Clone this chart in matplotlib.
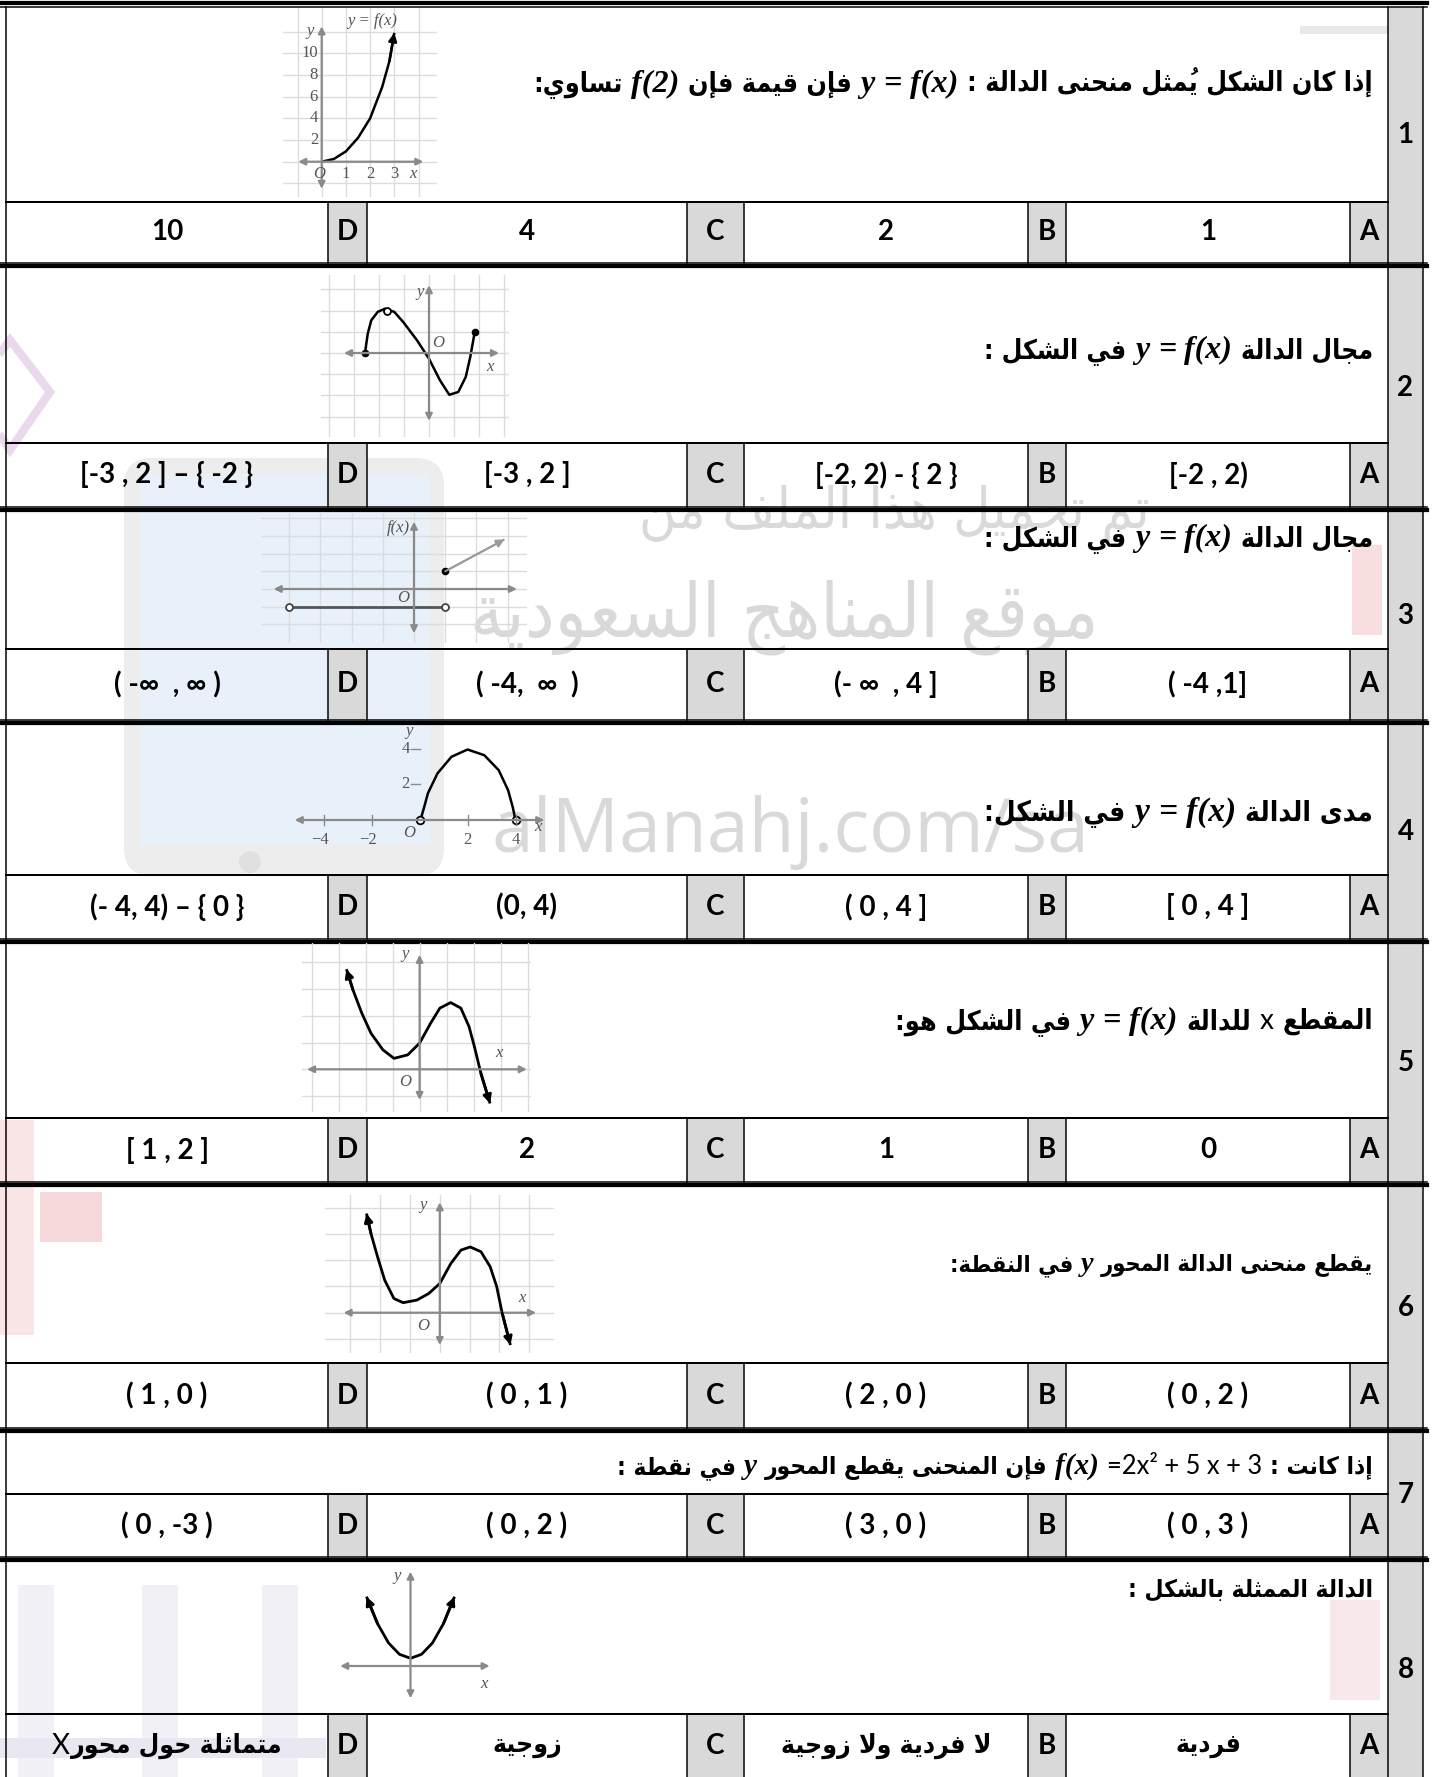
import matplotlib
matplotlib.use("Agg")
import matplotlib.pyplot as plt
from matplotlib.patches import Rectangle, FancyBboxPatch, Circle, Polygon

W, H = 1434, 1777

# ---------------- data ----------------
numbers = ["1", "2", "3", "4", "5", "6", "7", "8"]
letters = ["A", "B", "C", "D"]

# question lines, segments in reading order (right to left)
q1 = [("إذا كان الشكل يُمثل منحنى الدالة :", "ar"), ("f(x)", "m"), ("=", "m"), ("y", "m"),
      ("فإن قيمة فإن", "ar"), ("f(2)", "m"), ("تساوي:", "ar")]
q2 = [("مجال الدالة", "ar"), ("f(x)", "m"), ("=", "m"), ("y", "m"), ("في الشكل :", "ar")]
q3 = [("مجال الدالة", "ar"), ("f(x)", "m"), ("=", "m"), ("y", "m"), ("في الشكل :", "ar")]
q4 = [("مدى الدالة", "ar"), ("f(x)", "m"), ("=", "m"), ("y", "m"), ("في الشكل:", "ar")]
q5 = [("المقطع", "ar"), ("x", "lat"), ("للدالة", "ar"), ("f(x)", "m"), ("=", "m"), ("y", "m"),
      ("في الشكل هو:", "ar")]
q6 = [("يقطع منحنى الدالة المحور", "ar"), ("y", "m"), ("في النقطة:", "ar")]
q7 = [("إذا كانت :", "ar"), ("=2x² + 5 x + 3", "lat"), ("f(x)", "m"),
      ("فإن المنحنى يقطع المحور", "ar"), ("y", "m"), ("في نقطة :", "ar")]
q8 = [("الدالة الممثلة بالشكل :", "ar")]
questions = [q1, q2, q3, q4, q5, q6, q7, q8]

# answers A, B, C, D
answers = [
    ["1", "2", "4", "10"],
    ["[-2 , 2)", "[-2, 2) - { 2 }", "[-3 , 2 ]", "[-3 , 2 ] – { -2 }"],
    ["( -4 ,1]", "(- ∞  , 4 ]", "( -4,  ∞  )", "( -∞  , ∞ )"],
    ["[ 0 , 4 ]", "( 0 , 4 ]", "(0, 4)", "(- 4, 4) – { 0 }"],
    ["0", "1", "2", "[ 1 , 2 ]"],
    ["( 0 , 2 )", "( 2 , 0 )", "( 0 , 1 )", "( 1 , 0 )"],
    ["( 0 , 3 )", "( 3 , 0 )", "( 0 , 2 )", "( 0 , -3 )"],
    [[("فردية", "ar")], [("لا فردية ولا زوجية", "ar")], [("زوجية", "ar")],
     [("متماثلة حول محور", "ar"), ("X", "lat")]],
]

# graph curves (graph units)
g1_x = [0, 0.5, 1.0, 1.5, 2.0, 2.5, 2.8, 3.0]
g1_y = [0, 0.25, 0.95, 2.2, 4.0, 6.9, 9.3, 11.9]
g1_yt = [2, 4, 6, 8, 10]
g1_xt = [1, 2, 3]

g2_x = [-2.56, -2.5, -2.45, -2.31, -2.05, -1.76, -1.39, -1.03, -0.48, 0.0, 0.44, 0.81, 1.17, 1.47, 1.65, 1.83]
g2_y = [0.0, 0.5, 0.91, 1.54, 1.94, 2.09, 1.94, 1.46, 0.6, -0.27, -1.29, -1.97, -1.84, -1.13, -0.19, 0.99]
g2_open = (-1.68, 1.98)

g3_seg_x = [-4, 1]
g3_seg_y = [-1, -1]
g3_ray_x = [1, 2.9]
g3_ray_y = [1, 2.8]

g4_x = [0.04, 0.2, 0.35, 0.75, 1.33, 2.0, 2.7, 3.3, 3.69, 3.88, 4.0]
g4_y = [0.0, 0.75, 1.5, 2.62, 3.55, 3.96, 3.64, 2.8, 1.68, 0.75, 0.0]
g4_xt = [-4, -2, 2, 4]
g4_yt = [2, 4]

g5_x = [-2.71, -2.47, -2.14, -1.8, -1.36, -0.95, -0.44, 0.0, 0.41, 0.75, 1.15, 1.53, 1.83, 2.03, 2.27, 2.61]
g5_y = [3.75, 2.98, 2.1, 1.35, 0.73, 0.41, 0.54, 0.98, 1.73, 2.29, 2.5, 2.29, 1.6, 0.85, -0.15, -1.28]

g6_x = [-2.46, -2.31, -2.09, -1.85, -1.54, -1.23, -0.77, -0.37, 0.0, 0.37, 0.71, 1.02, 1.38, 1.69, 1.91, 2.09, 2.37]
g6_y = [3.77, 3.01, 2.13, 1.24, 0.54, 0.38, 0.48, 0.73, 1.11, 1.87, 2.38, 2.5, 2.32, 1.75, 0.99, 0.0, -1.23]

g8_x = [-2.0, -1.5, -1.0, -0.5, 0.0, 0.5, 1.0, 1.5, 2.0]
g8_y = [3.15, 1.93, 1.05, 0.53, 0.35, 0.53, 1.05, 1.93, 3.15]

# ---------------- arabic shaping ----------------
FORMS = {
    'ء': ('\uFE80', None, None, None), 'آ': ('\uFE81', '\uFE82', None, None),
    'أ': ('\uFE83', '\uFE84', None, None), 'إ': ('\uFE87', '\uFE88', None, None),
    'ا': ('\uFE8D', '\uFE8E', None, None), 'ب': ('\uFE8F', '\uFE90', '\uFE91', '\uFE92'),
    'ة': ('\uFE93', '\uFE94', None, None), 'ت': ('\uFE95', '\uFE96', '\uFE97', '\uFE98'),
    'ث': ('\uFE99', '\uFE9A', '\uFE9B', '\uFE9C'), 'ج': ('\uFE9D', '\uFE9E', '\uFE9F', '\uFEA0'),
    'ح': ('\uFEA1', '\uFEA2', '\uFEA3', '\uFEA4'), 'خ': ('\uFEA5', '\uFEA6', '\uFEA7', '\uFEA8'),
    'د': ('\uFEA9', '\uFEAA', None, None), 'ذ': ('\uFEAB', '\uFEAC', None, None),
    'ر': ('\uFEAD', '\uFEAE', None, None), 'ز': ('\uFEAF', '\uFEB0', None, None),
    'س': ('\uFEB1', '\uFEB2', '\uFEB3', '\uFEB4'), 'ش': ('\uFEB5', '\uFEB6', '\uFEB7', '\uFEB8'),
    'ص': ('\uFEB9', '\uFEBA', '\uFEBB', '\uFEBC'), 'ض': ('\uFEBD', '\uFEBE', '\uFEBF', '\uFEC0'),
    'ط': ('\uFEC1', '\uFEC2', '\uFEC3', '\uFEC4'), 'ظ': ('\uFEC5', '\uFEC6', '\uFEC7', '\uFEC8'),
    'ع': ('\uFEC9', '\uFECA', '\uFECB', '\uFECC'), 'غ': ('\uFECD', '\uFECE', '\uFECF', '\uFED0'),
    'ف': ('\uFED1', '\uFED2', '\uFED3', '\uFED4'), 'ق': ('\uFED5', '\uFED6', '\uFED7', '\uFED8'),
    'ك': ('\uFED9', '\uFEDA', '\uFEDB', '\uFEDC'), 'ل': ('\uFEDD', '\uFEDE', '\uFEDF', '\uFEE0'),
    'م': ('\uFEE1', '\uFEE2', '\uFEE3', '\uFEE4'), 'ن': ('\uFEE5', '\uFEE6', '\uFEE7', '\uFEE8'),
    'ه': ('\uFEE9', '\uFEEA', '\uFEEB', '\uFEEC'), 'و': ('\uFEED', '\uFEEE', None, None),
    'ى': ('\uFEEF', '\uFEF0', None, None), 'ي': ('\uFEF1', '\uFEF2', '\uFEF3', '\uFEF4'),
}
LAM_ALEF = {'ا': ('\uFEFB', '\uFEFC'), 'أ': ('\uFEF7', '\uFEF8'),
            'إ': ('\uFEF9', '\uFEFA'), 'آ': ('\uFEF5', '\uFEF6')}
MARKS = set('\u064B\u064C\u064D\u064E\u064F\u0650\u0651\u0652')


def shape(text):
    cl = []
    for ch in text:
        if ch in MARKS and cl:
            cl[-1][1] += ch
        else:
            cl.append([ch, ''])
    mg = []
    i = 0
    while i < len(cl):
        if cl[i][0] == 'ل' and i + 1 < len(cl) and cl[i + 1][0] in LAM_ALEF:
            mg.append(['LA' + cl[i + 1][0], cl[i][1] + cl[i + 1][1]])
            i += 2
        else:
            mg.append(cl[i])
            i += 1

    def letter(b):
        return b.startswith('LA') or b in FORMS

    def joins_next(b):
        return b in FORMS and FORMS[b][2] is not None

    out = []
    for i, (b, m) in enumerate(mg):
        cp = i > 0 and joins_next(mg[i - 1][0]) and letter(b)
        cn = i + 1 < len(mg) and letter(mg[i + 1][0]) and joins_next(b)
        if b.startswith('LA'):
            g = LAM_ALEF[b[2]][1 if cp else 0]
        elif b in FORMS:
            iso, fin, ini, med = FORMS[b]
            g = med if (cp and cn) else fin if cp else ini if cn else iso
        else:
            g = b
        # marks go first so they land on their own letter in left-to-right drawing
        out.append(m + g)
    return ''.join(reversed(out))


# ---------------- figure ----------------
fig = plt.figure(figsize=(W / 100, H / 100), dpi=100)
ax = fig.add_axes([0, 0, 1, 1])
ax.set_xlim(0, W)
ax.set_ylim(H, 0)
ax.axis("off")
R = fig.canvas.get_renderer()

GRAY = "#d9d9d9"
STYLE = {
    "ar": dict(family="DejaVu Sans", weight="bold", stretch="condensed"),
    "m": dict(family="Liberation Serif", style="italic", weight="bold"),
    "lat": dict(family=["Lato", "DejaVu Sans"], weight="normal"),
    "ans": dict(family=["Lato", "DejaVu Sans"], weight="bold"),
}
SCALE = {"ar": 1.0, "m": 1.2, "lat": 1.05, "ans": 1.0}
FS = 20


def place(segs, x, y, size, align="right", left=None, z=5, color="black", va="baseline",
          alpha=1.0, weight=None, gapf=0.45):
    ts = []
    for txt, kind in segs:
        s = shape(txt) if kind == "ar" else txt
        st = dict(STYLE[kind])
        if weight is not None:
            st["weight"] = weight
        t = ax.text(0, y, s, fontsize=size * SCALE[kind], ha="left", va=va,
                    color=color, alpha=alpha, zorder=z, **st)
        ts.append(t)
    gap = size * gapf

    def widths():
        return [t.get_window_extent(renderer=R).width for t in ts]

    wd = widths()
    total = sum(wd) + gap * (len(ts) - 1)
    if left is not None:
        k = (x - left) / total
        for t in ts:
            t.set_fontsize(t.get_fontsize() * k)
        gap *= k
        wd = widths()
        total = sum(wd) + gap * (len(ts) - 1)
    xr = x if align == "right" else x + total / 2
    for t, w in zip(ts, wd):
        t.set_x(xr - w)
        xr -= w + gap
    return ts


# ---------------- watermark ----------------
ax.add_patch(FancyBboxPatch((124, 458), 320, 418, boxstyle="round,pad=0,rounding_size=28",
                            fc="#ededed", ec="none", zorder=0))
ax.add_patch(Rectangle((140, 474), 290, 370, fc="#e8f0f9", ec="none", zorder=0))
ax.add_patch(Circle((250, 862), 11, fc="#e0e0e0", ec="none", zorder=0))
ax.add_patch(Polygon([(-30, 392), (10, 340), (50, 392), (10, 450)], closed=True, fill=False,
                     ec="#ead9ec", lw=6, zorder=0))
ax.add_patch(Rectangle((1352, 545), 30, 90, fc="#f8dede", ec="none", zorder=0))
ax.add_patch(Rectangle((0, 1120), 34, 215, fc="#fae5e6", ec="none", zorder=0))
ax.add_patch(Rectangle((40, 1192), 62, 50, fc="#f7d9db", ec="none", zorder=0))
for bx in [18, 142, 262]:
    ax.add_patch(Rectangle((bx, 1585), 36, 192, fc="#f1f0f6", ec="none", zorder=0))
ax.add_patch(Rectangle((0, 1738), 326, 20, fc="#e9e7f1", ec="none", zorder=0))
ax.add_patch(Rectangle((1330, 1600), 50, 100, fc="#f9e8ea", ec="none", zorder=0))
ax.add_patch(Rectangle((1300, 26), 88, 8, fc="#e9e9e9", ec="none", zorder=0))

WM = dict(color="#b4b4b4", alpha=0.5, weight="normal", z=1)
place([("تم تحميل هذا الملف من", "ar")], 1150, 528, 30, left=640, **WM)
place([("موقع المناهج السعودية", "ar")], 1098, 636, 40, left=470, **WM)
ax.text(790, 852, "alManahj.com/sa", ha="center", va="baseline", fontsize=54,
        family="Open Sans", color="#b4b4b4", alpha=0.5, zorder=1)

# ---------------- table ----------------
rows = [(7, 202, 263), (268, 443, 507), (512, 649, 720), (725, 875, 939),
        (944, 1118, 1182), (1187, 1363, 1428), (1433, 1494, 1557), (1562, 1714, 1777)]
X0, XN, XR = 6, 1388, 1423
ans_cells = [(1066, 1350), (744, 1028), (367, 687), (6, 328)]
lab_cells = [(1350, 1388), (1028, 1066), (687, 744), (328, 367)]
text_base = [92, 358, 546, 821, 1029, 1271, 1474, 1597]
text_left = [535, 984, 984, 984, 896, 950, 617, 1128]

LW_THIN = 1.5 * 0.72
ax.add_patch(Rectangle((XN, 7), XR - XN, H - 7, fc=GRAY, ec="none", zorder=2))
for i, (top, mid, bot) in enumerate(rows):
    for (a, b) in lab_cells:
        ax.add_patch(Rectangle((a, mid), b - a, bot - mid, fc=GRAY, ec="none", zorder=2))
    ax.plot([X0, XN], [mid, mid], color="black", lw=2 * 0.72, zorder=6)
    for xv in [328, 367, 687, 744, 1028, 1066, 1350]:
        ax.plot([xv, xv], [mid, bot], color="black", lw=LW_THIN, zorder=6)
    if i < len(rows) - 1:
        ax.plot([0, 1427], [bot, bot], color="black", lw=LW_THIN, zorder=6)
        ax.plot([0, 1427], [bot + 2.8, bot + 2.8], color="black", lw=4.2 * 0.72, zorder=6)
    ax.text((XN + XR) / 2, (top + bot) / 2, numbers[i], ha="center", va="center",
            fontsize=FS, zorder=7, **STYLE["ans"])
    yc = (mid + bot) / 2
    for j in range(4):
        a, b = ans_cells[j]
        la, lb = lab_cells[j]
        ax.text((la + lb) / 2, yc, letters[j], ha="center", va="center", fontsize=FS,
                zorder=7, **STYLE["ans"])
        val = answers[i][j]
        if isinstance(val, list):
            place(val, (a + b) / 2, yc, 19, align="center", va="center", gapf=0.05)
        else:
            ax.text((a + b) / 2, yc, val, ha="center", va="center", fontsize=FS,
                    zorder=7, **STYLE["ans"])
    place(questions[i], 1373, text_base[i], 17, left=text_left[i])

ax.plot([0, 1427], [3, 3], color="black", lw=4.2 * 0.72, zorder=6)
ax.plot([0, 1427], [7, 7], color="black", lw=LW_THIN, zorder=6)
for xv in [X0, XN, XR]:
    ax.plot([xv, xv], [7, H], color="black", lw=LW_THIN, zorder=6)

# ---------------- small graphs ----------------
AXC = "#8a8a8a"
GRC = "#dcdcdc"
LBL = dict(family="Liberation Serif", color="#555555", fontsize=12)


def graph(box, origin, ux, uy, gx=None, gy=None):
    x0, y0, x1, y1 = box
    ox, oy = origin
    g = fig.add_axes([x0 / W, 1 - y1 / H, (x1 - x0) / W, (y1 - y0) / H])
    g.set_xlim((x0 - ox) / ux, (x1 - ox) / ux)
    g.set_ylim((oy - y1) / uy, (oy - y0) / uy)
    g.patch.set_alpha(0)
    for s in g.spines.values():
        s.set_visible(False)
    g.tick_params(length=0, labelbottom=False, labelleft=False)
    if gx is not None:
        g.set_xticks(gx)
        g.set_yticks(gy)
        g.grid(True, color=GRC, lw=1.0)
    else:
        g.set_xticks([])
        g.set_yticks([])
    return g


def axes_arrows(g, xa, ya):
    ap = dict(arrowstyle="<|-|>", color=AXC, lw=1.6, mutation_scale=10, shrinkA=0, shrinkB=0)
    g.annotate("", xy=(xa[1], 0), xytext=(xa[0], 0), arrowprops=ap)
    g.annotate("", xy=(0, ya[1]), xytext=(0, ya[0]), arrowprops=ap)


def curve(g, xs, ys, c="black", arrows=(False, True), lw=1.8):
    g.plot(xs, ys, color=c, lw=lw, solid_capstyle="butt")
    ap = dict(arrowstyle="-|>", color=c, lw=lw, mutation_scale=12, shrinkA=0, shrinkB=0)
    if arrows[1]:
        g.annotate("", xy=(xs[-1], ys[-1]), xytext=(xs[-2], ys[-2]), arrowprops=ap)
    if arrows[0]:
        g.annotate("", xy=(xs[0], ys[0]), xytext=(xs[1], ys[1]), arrowprops=ap)


# graph 1
g = graph((283, 8, 437, 197), (321.7, 161.7), 24.2, 10.83, gx=[-1, 0, 1, 2, 3, 4],
          gy=[-2, 0, 2, 4, 6, 8, 10, 12])
axes_arrows(g, (-0.97, 4.2), (-2.5, 12.5))
curve(g, g1_x, g1_y)
for v in g1_yt:
    g.text(-0.15, v, str(v), ha="right", va="center", **LBL)
for v in g1_xt:
    g.text(v, -1.1, str(v), ha="center", va="center", **LBL)
g.text(-0.1, -1.1, "O", ha="center", va="center", style="italic", **LBL)
g.text(3.75, -1.1, "x", ha="center", va="center", style="italic", **LBL)
g.text(-0.5, 12.1, "y", ha="center", va="center", style="italic", **LBL)
g.text(2.1, 13.0, "y = f(x)", ha="center", va="center", style="italic", **LBL)

# graph 2
g = graph((321, 275, 509, 437), (429, 353), 25.0, 21.2, gx=[-4, -3, -2, -1, 0, 1, 2, 3],
          gy=[-3, -2, -1, 0, 1, 2, 3])
axes_arrows(g, (-3.4, 2.8), (-3.2, 3.2))
curve(g, g2_x, g2_y, arrows=(False, False))
g.plot([g2_x[0], g2_x[-1]], [g2_y[0], g2_y[-1]], "o", ms=4.5, color="black")
g.plot([g2_open[0]], [g2_open[1]], "o", ms=5, mfc="white", mec="black", mew=1.3)
g.text(-0.35, 2.9, "y", ha="center", va="center", style="italic", **LBL)
g.text(0.35, 0.45, "O", ha="center", va="center", style="italic", **LBL)
g.text(2.45, -0.65, "x", ha="center", va="center", style="italic", **LBL)

# graph 3
g = graph((261, 512, 527, 643), (414, 589), 31.2, 17.7, gx=[-4, -3, -2, -1, 0, 1, 2, 3],
          gy=[-2, -1, 0, 1, 2, 3, 4])
axes_arrows(g, (-4.5, 3.3), (-2.5, 3.8))
g.plot(g3_seg_x, g3_seg_y, color="#555555", lw=2.0)
g.plot(g3_seg_x, g3_seg_y, "o", ms=5, mfc="white", mec="#444444", mew=1.3)
curve(g, g3_ray_x, g3_ray_y, c="#9a9a9a", lw=1.4)
g.plot([g3_ray_x[0]], [g3_ray_y[0]], "o", ms=4.5, color="black")
g.text(-0.15, 3.45, "f(x)", ha="right", va="center", style="italic", **LBL)
g.text(-0.35, -0.5, "O", ha="center", va="center", style="italic", **LBL)

# graph 4
g = graph((293, 725, 554, 858), (419.5, 820), 24.0, 17.8)
axes_arrows(g, (-5.2, 5.2), (-2.1, 5.4))
curve(g, g4_x, g4_y, arrows=(False, False))
g.plot([g4_x[0], g4_x[-1]], [g4_y[0], g4_y[-1]], "o", ms=5.5, mfc="white", mec="black", mew=1.3)
for v in g4_xt:
    g.plot([v, v], [-0.3, 0.3], color=AXC, lw=1)
    g.text(v - (0.15 if v < 0 else 0), -1.15, str(v).replace("-", "−"), ha="center", va="center", **LBL)
for v in g4_yt:
    g.plot([-0.35, 0], [v, v], color=AXC, lw=1)
    g.text(-0.4, v, str(v), ha="right", va="center", **LBL)
g.text(-0.45, -0.75, "O", ha="center", va="center", style="italic", **LBL)
g.text(4.95, -0.4, "x", ha="center", va="center", style="italic", **LBL)
g.text(-0.45, 5.0, "y", ha="center", va="center", style="italic", **LBL)

# graph 5
g = graph((302, 943, 531, 1112), (419.6, 1069.3), 27.0, 26.7, gx=[-4, -3, -2, -1, 0, 1, 2, 3, 4],
          gy=[-1, 0, 1, 2, 3, 4])
axes_arrows(g, (-4.17, 3.97), (-1.15, 4.29))
curve(g, g5_x, g5_y, arrows=(True, True), lw=2.0)
g.text(-0.55, 4.3, "y", ha="center", va="center", style="italic", **LBL)
g.text(2.95, 0.6, "x", ha="center", va="center", style="italic", **LBL)
g.text(-0.55, -0.46, "O", ha="center", va="center", style="italic", **LBL)

# graph 6
g = graph((325, 1195, 554, 1353), (439.8, 1312.7), 29.8, 26.3, gx=[-3, -2, -1, 0, 1, 2, 3],
          gy=[-1, 0, 1, 2, 3, 4])
axes_arrows(g, (-3.23, 3.23), (-1.23, 4.2))
curve(g, g6_x, g6_y, arrows=(True, True), lw=2.0)
g.text(-0.55, 4.1, "y", ha="center", va="center", style="italic", **LBL)
g.text(2.77, 0.54, "x", ha="center", va="center", style="italic", **LBL)
g.text(-0.55, -0.5, "O", ha="center", va="center", style="italic", **LBL)

# graph 8
g = graph((332, 1562, 499, 1708), (410.5, 1666), 22, 22)
axes_arrows(g, (-3.2, 3.6), (-1.47, 4.29))
curve(g, g8_x, g8_y, arrows=(True, True), lw=2.0)
g.text(-0.62, 4.1, "y", ha="center", va="center", style="italic", **LBL)
g.text(3.33, -0.8, "x", ha="center", va="center", style="italic", **LBL)

fig.savefig("out.png", dpi=100)
